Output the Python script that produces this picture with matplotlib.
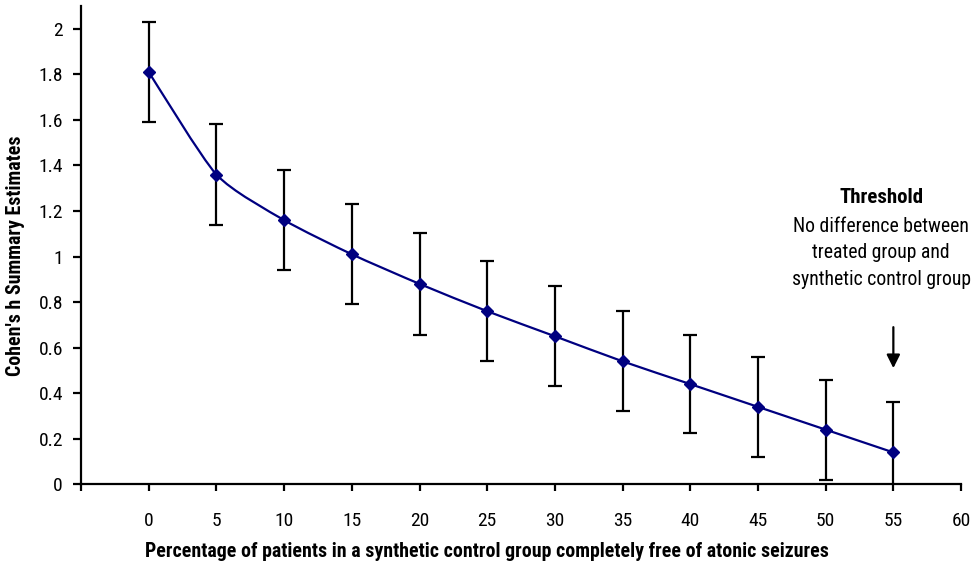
import numpy as np
import matplotlib.pyplot as plt
from matplotlib.path import Path
from matplotlib.patches import PathPatch

plt.rcParams['font.family'] = ['Roboto Condensed', 'IBM Plex Sans Condensed', 'DejaVu Sans']

# data
pct_free = [0, 5, 10, 15, 20, 25, 30, 35, 40, 45, 50, 55]
cohens_h = [1.81, 1.36, 1.16, 1.01, 0.88, 0.76, 0.65, 0.54, 0.44, 0.34, 0.24, 0.14]
ci_half = [0.22, 0.22, 0.22, 0.22, 0.225, 0.22, 0.22, 0.22, 0.215, 0.22, 0.22, 0.22]
x_ticks = [-5, 0, 5, 10, 15, 20, 25, 30, 35, 40, 45, 50, 55, 60]
x_ticklabels = ['', '0', '5', '10', '15', '20', '25', '30', '35', '40', '45', '50', '55', '60']
y_ticks = [0, 0.2, 0.4, 0.6, 0.8, 1.0, 1.2, 1.4, 1.6, 1.8, 2.0]
y_ticklabels = ['0', '0.2', '0.4', '0.6', '0.8', '1', '1.2', '1.4', '1.6', '1.8', '2']

navy = '#000080'


def smooth_path(x, y, k=1 / 9):
    # bezier through the points, like Excel's smoothed line
    x = np.asarray(x, float)
    y = np.asarray(y, float)
    verts = [(x[0], y[0])]
    codes = [Path.MOVETO]
    n = len(x)
    for i in range(n - 1):
        x0, y0 = (x[i - 1], y[i - 1]) if i > 0 else (x[i], y[i])
        x3, y3 = (x[i + 2], y[i + 2]) if i + 2 < n else (x[i + 1], y[i + 1])
        c1 = (x[i] + (x[i + 1] - x0) * k, y[i] + (y[i + 1] - y0) * k)
        c2 = (x[i + 1] - (x3 - x[i]) * k, y[i + 1] - (y3 - y[i]) * k)
        verts += [c1, c2, (x[i + 1], y[i + 1])]
        codes += [Path.CURVE4] * 3
    return Path(verts, codes)


fig = plt.figure(figsize=(9.74, 5.73), dpi=100)
ax = fig.add_axes([0.0832, 0.1548, 0.9035, 0.8347])

ax.errorbar(pct_free, cohens_h, yerr=ci_half, fmt='none', ecolor='black',
            elinewidth=1.6, capsize=4.7, capthick=1.6, zorder=2)
ax.add_patch(PathPatch(smooth_path(pct_free, cohens_h), facecolor='none',
                       edgecolor=navy, lw=1.6, zorder=3))
ax.plot(pct_free, cohens_h, linestyle='none', marker='D', color=navy,
        markersize=6.5, zorder=4)

ax.set_xlim(-5, 60)
ax.set_ylim(0, 2.1)
ax.set_xticks(x_ticks)
ax.set_xticklabels(x_ticklabels, fontsize=14)
ax.set_yticks(y_ticks)
ax.set_yticklabels(y_ticklabels, fontsize=14)
ax.tick_params(axis='x', direction='out', length=5, width=1.6, pad=15)
ax.tick_params(axis='y', direction='out', length=6, width=1.6, pad=7)
for side in ['top', 'right']:
    ax.spines[side].set_visible(False)
for side in ['left', 'bottom']:
    ax.spines[side].set_linewidth(1.6)

ax.set_xlabel('Percentage of patients in a synthetic control group completely free of atonic seizures',
              fontsize=14.3, fontweight='bold')
ax.set_ylabel("Cohen's h Summary Estimates", fontsize=14.3, fontweight='bold')
ax.xaxis.set_label_coords(0.461, -0.121)
ax.yaxis.set_label_coords(-0.0636, 0.477)

# threshold annotation
ax.text(54.1, 1.258, 'Threshold', ha='center', va='center', fontsize=15, fontweight='bold')
ax.text(54.1, 1.130, 'No difference between', ha='center', va='center', fontsize=14.2)
ax.text(54.1, 1.017, 'treated group and', ha='center', va='center', fontsize=14.2)
ax.text(54.1, 0.898, 'synthetic control group', ha='center', va='center', fontsize=14.2)
ax.annotate('', xy=(55, 0.51), xytext=(55, 0.69),
            arrowprops=dict(arrowstyle='-|>', color='black', lw=1.6,
                            mutation_scale=20, shrinkA=0, shrinkB=0))

fig.savefig('out.png', dpi=100)
